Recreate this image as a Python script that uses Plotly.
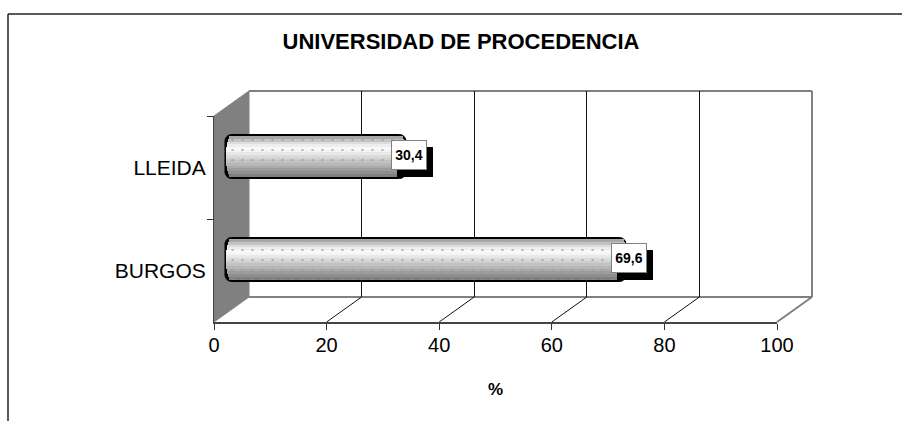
import math
import plotly.graph_objects as go

# ---- data ----
categories = ["BURGOS", "LLEIDA"]
values = [69.6, 30.4]
x_ticks = [0, 20, 40, 60, 80, 100]
title_text = "UNIVERSIDAD DE PROCEDENCIA"
x_title = "%"

# ---- geometry helpers (pixels of the 902x421 page) ----
W, H = 902, 421
FX0, FX1 = 214, 777   # front axis
FY0, FY1 = 116, 322
DX, DY = 35, 25       # 3D depth
BX, BY = 16, 11       # bar position inside the depth
PX_PER_UNIT = (FX1 - FX0) / 100
FONT = "Liberation Sans"


def px(x):
    return x / W


def py(y):
    return 1 - y / H


def poly(points):
    return "M " + " L ".join(f"{px(a):.5f} {py(b):.5f}" for a, b in points) + " Z"


shapes = []
# frame: left and top only
shapes.append(dict(type="line", xref="paper", yref="paper", x0=px(8), x1=px(8), y0=0, y1=py(14),
                   line=dict(color="#222", width=1.5)))
shapes.append(dict(type="line", xref="paper", yref="paper", x0=px(8), x1=1, y0=py(14), y1=py(14),
                   line=dict(color="#222", width=1.5)))
# left wall
shapes.append(dict(type="path", xref="paper", yref="paper", layer="below",
                   path=poly([(FX0, FY0), (FX0 + DX, FY0 - DY), (FX0 + DX, FY1 - DY), (FX0, FY1)]),
                   fillcolor="#808080", line=dict(color="#808080", width=1)))
# back wall top, right, bottom edges and floor
for a, b, c, d in [
    (FX0 + DX, FY0 - DY, FX1 + DX, FY0 - DY),
    (FX1 + DX, FY0 - DY, FX1 + DX, FY1 - DY),
    (FX0 + DX, FY1 - DY, FX1 + DX, FY1 - DY),
    (FX1, FY1, FX1 + DX, FY1 - DY),
]:
    shapes.append(dict(type="line", xref="paper", yref="paper", layer="below",
                       x0=px(a), y0=py(b), x1=px(c), y1=py(d),
                       line=dict(color="#808080", width=2)))
for v in x_ticks[1:-1]:
    xf = FX0 + v * PX_PER_UNIT
    shapes.append(dict(type="line", xref="paper", yref="paper", layer="below",
                       x0=px(xf), y0=py(FY1), x1=px(xf + DX), y1=py(FY1 - DY),
                       line=dict(color="#111", width=1)))

fig = go.Figure()

# invisible trace that gives the front axes their categories
fig.add_trace(go.Scatter(x=values, y=categories, mode="markers", marker=dict(opacity=0),
                         xaxis="x", yaxis="y", showlegend=False, hoverinfo="skip"))
fig.add_trace(go.Scatter(x=values, y=categories, mode="markers", marker=dict(opacity=0),
                         xaxis="x2", yaxis="y2", showlegend=False, hoverinfo="skip"))

BAR_PX = 44
UNIT_Y = (FY1 - FY0) / 2
CAP = 5 / PX_PER_UNIT
bar_w = BAR_PX / UNIT_Y

# black rounded outline
fig.add_trace(go.Bar(y=categories, x=[v + 2 * CAP for v in values], base=[-CAP] * 2, orientation="h",
                     width=bar_w, offset=-bar_w / 2,
                     marker=dict(color="#000", line=dict(color="#000", width=1), cornerradius=7),
                     xaxis="x3", yaxis="y3", showlegend=False, hoverinfo="skip"))

# cylinder shading: horizontal bands from top to bottom
bands = ["#a8a8a8", "#c4c4c4", "#dcdcdc", "#eeeeee", "#f8f8f8", "#f4f4f4", "#e8e8e8", "#dadada",
         "#cecece", "#c2c2c2", "#b6b6b6", "#aaaaaa", "#9c9c9c", "#8e8e8e", "#808080"]
n = len(bands)
inner = BAR_PX - 4
step = inner / n
for i, col in enumerate(bands):
    top = -inner / 2 + i * step
    t = (top + step / 2) / (inner / 2)
    round_ = math.sqrt(max(0, 1 - t * t))
    inset = (1 - round_) * 5 / PX_PER_UNIT
    left = -CAP + 1.5 / PX_PER_UNIT + inset
    ext = CAP * round_ - 1 / PX_PER_UNIT - t * 2 / PX_PER_UNIT
    w = (step + 0.4) / UNIT_Y
    # y axis increases upward, so band offsets are mirrored
    off = -(top + step + 0.2) / UNIT_Y
    fig.add_trace(go.Bar(y=categories, x=[v + ext - left for v in values], base=[left] * 2,
                         orientation="h", width=w, offset=off,
                         marker=dict(color=col, line=dict(width=0)),
                         xaxis="x3", yaxis="y3", showlegend=False, hoverinfo="skip"))

# fine dot texture over the shading
tex_h = inner / UNIT_Y
fig.add_trace(go.Bar(y=categories, x=[v + CAP - 3 / PX_PER_UNIT for v in values],
                     base=[-CAP + 3 / PX_PER_UNIT] * 2, orientation="h",
                     width=tex_h, offset=-tex_h / 2,
                     marker=dict(color="rgba(0,0,0,0)", line=dict(width=0),
                                 pattern=dict(shape=".", size=10, solidity=0.03, fgcolor="#999",
                                              bgcolor="rgba(0,0,0,0)", fgopacity=1)),
                     xaxis="x3", yaxis="y3", showlegend=False, hoverinfo="skip"))

annotations = []
label_shift = {"BURGOS": (7, 2), "LLEIDA": (8, 1.5)}
for cat, val in zip(categories, values):
    sx, sy = label_shift[cat]
    txt = f"{val:.1f}".replace(".", ",")
    annotations.append(dict(xref="x3", yref="y3", x=val, y=cat, text=" ", showarrow=False,
                            xshift=sx + 6, yshift=sy - 7, width=34, height=28, borderpad=0,
                            bgcolor="#000", bordercolor="#000", borderwidth=1,
                            font=dict(family=FONT, size=12, color="#000")))
    annotations.append(dict(xref="x3", yref="y3", x=val, y=cat, text=f"<b>{txt}</b>", showarrow=False,
                            xshift=sx, yshift=sy, width=34, height=28, borderpad=0,
                            bgcolor="#fff", bordercolor="#808080", borderwidth=1,
                            font=dict(family=FONT, size=14, color="#000")))

RANGE_MIN = -4
fig.update_layout(
    template="none",
    width=W, height=H, margin=dict(l=0, r=0, t=0, b=0, pad=0), autosize=False,
    paper_bgcolor="#fff", plot_bgcolor="rgba(0,0,0,0)",
    barmode="overlay", bargap=0, showlegend=False,
    shapes=shapes, annotations=annotations,
    title=dict(text=f"<b>{title_text}</b>", x=461 / W, xanchor="center", y=py(41), yanchor="middle",
               font=dict(family=FONT, size=22, color="#000"), automargin=False),
    xaxis=dict(domain=[px(FX0), px(FX1)], range=[0, 100], tickvals=x_ticks, ticks="outside", ticklen=6,
               tickcolor="#333", tickwidth=1, showline=True, linecolor="#444", linewidth=2, showgrid=False,
               zeroline=False, anchor="y", automargin=False, ticklabelstandoff=-2,
               tickfont=dict(family=FONT, size=20, color="#000"),
               title=dict(text=f"<b>{x_title}</b>", font=dict(family=FONT, size=17, color="#000"), standoff=28)),
    yaxis=dict(domain=[py(FY1), py(FY0)], type="category", categoryorder="array", categoryarray=categories,
               range=[-0.5, 1.5], tickson="boundaries", ticks="outside", ticklen=6, tickcolor="#333", tickwidth=1,
               showline=True, linecolor="#444", linewidth=1, showgrid=False, zeroline=False, anchor="x",
               automargin=False, ticklabelstandoff=3, tickfont=dict(family=FONT, size=21, color="#000")),
    xaxis2=dict(domain=[px(FX0 + DX), px(FX1 + DX)], range=[0, 100], tickvals=x_ticks[1:-1], ticks="",
                showticklabels=False, showgrid=True, gridcolor="#111", gridwidth=1, showline=False,
                zeroline=False, anchor="y2", automargin=False),
    yaxis2=dict(domain=[py(FY1 - DY), py(FY0 - DY)], type="category", categoryorder="array",
                categoryarray=categories, range=[-0.5, 1.5], visible=False, anchor="x2", automargin=False),
    xaxis3=dict(domain=[px(FX0 + BX + RANGE_MIN * PX_PER_UNIT), px(FX1 + BX)], range=[RANGE_MIN, 100],
                visible=False, anchor="y3", automargin=False),
    yaxis3=dict(domain=[py(FY1 - BY), py(FY0 - BY)], type="category", categoryorder="array",
                categoryarray=categories, range=[-0.5, 1.5], visible=False, anchor="x3", automargin=False),
)

fig.write_html("out.html", config=dict(displayModeBar=False),
               post_script="document.body.style.margin='0';document.documentElement.style.overflow='hidden';document.body.style.overflow='hidden';")
